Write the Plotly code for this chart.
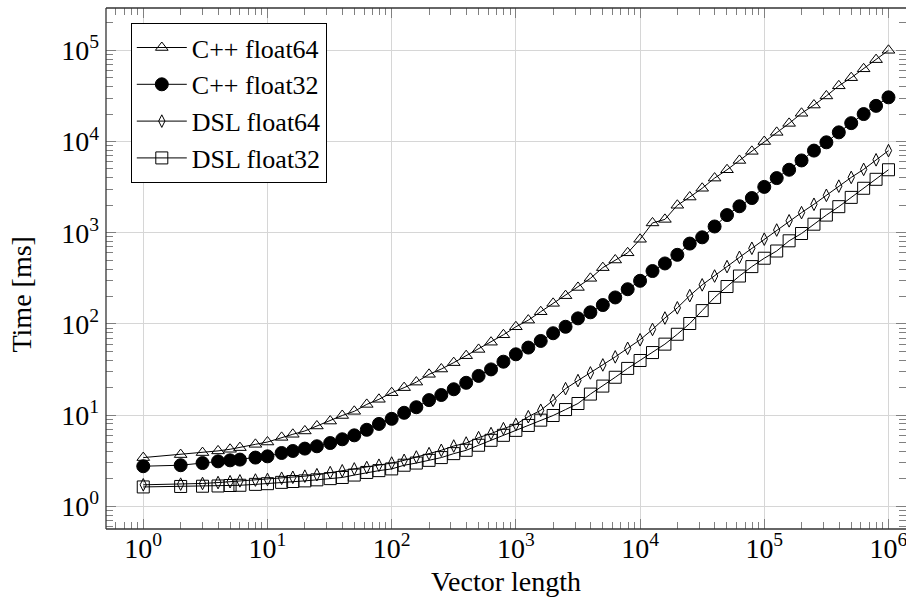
import plotly.graph_objects as go

# ---- data ----
vector_length = [1, 2, 3, 4, 5, 6, 8, 10,
                 13, 16, 20, 25, 32, 40, 50, 63, 79, 100,
                 126, 158, 200, 251, 316, 398, 501, 631, 794, 1000,
                 1259, 1585, 1995, 2512, 3162, 3981, 5012, 6310, 7943, 10000,
                 12589, 15849, 19953, 25119, 31623, 39811, 50119, 63096, 79433, 100000,
                 125893, 158489, 199526, 251189, 316228, 398107, 501187, 630957, 794328, 1000000]

cpp_float64 = [3.42, 3.69, 3.88, 4.05, 4.22, 4.4, 4.78, 5.07,
               5.7, 6.16, 6.7, 7.6, 8.6, 9.9, 11.0, 13.1, 14.9, 17.6,
               20.0, 23.0, 28.0, 32.0, 37.6, 44.8, 52.5, 63.0, 76.0, 93.0,
               110, 136, 168, 204, 251, 316, 414, 502, 602, 847,
               1280, 1400, 2000, 2460, 3070, 3970, 4900, 6200, 7800, 10000,
               12600, 15800, 20400, 25100, 31600, 40800, 50100, 62700, 79000, 100000]

cpp_float32 = [2.75, 2.82, 2.98, 3.11, 3.19, 3.25, 3.42, 3.53,
               3.84, 4.04, 4.29, 4.55, 4.94, 5.43, 6.0, 6.9, 8.0, 9.1,
               10.6, 12.2, 14.6, 16.6, 19.2, 22.6, 26.9, 31.7, 38.5, 46.4,
               55, 65, 79, 93, 115, 134, 161, 195, 240, 297,
               380, 460, 572, 760, 890, 1170, 1560, 1950, 2400, 3180,
               3970, 4900, 6200, 7950, 9800, 12600, 15900, 20000, 24600, 30500]

dsl_float64 = [1.72, 1.75, 1.78, 1.82, 1.86, 1.9, 1.94, 1.97,
               2.03, 2.08, 2.14, 2.22, 2.34, 2.45, 2.57, 2.66, 2.82, 2.98,
               3.19, 3.47, 3.78, 4.11, 4.58, 4.94, 5.66, 6.27, 7.1, 7.9,
               9.6, 11.3, 14.5, 19.5, 23.9, 29.0, 35.5, 43.5, 54.0, 67.0,
               87, 116, 150, 204, 268, 335, 425, 537, 675, 850,
               1070, 1350, 1660, 2050, 2570, 3240, 4040, 4950, 6300, 7950]

dsl_float32 = [1.63, 1.65, 1.66, 1.67, 1.69, 1.70, 1.74, 1.77,
               1.83, 1.87, 1.90, 1.95, 2.01, 2.07, 2.20, 2.35, 2.46, 2.57,
               2.82, 2.98, 3.19, 3.42, 3.78, 4.11, 4.67, 5.29, 6.0, 6.8,
               7.7, 8.8, 9.9, 11.5, 13.4, 17.0, 20.8, 26.0, 32.5, 39.7,
               48.5, 60, 77, 101, 140, 195, 257, 335, 425, 525,
               630, 815, 980, 1240, 1560, 1930, 2440, 3070, 3850, 4900]

x_tick_exponents = [0, 1, 2, 3, 4, 5, 6]
y_tick_exponents = [0, 1, 2, 3, 4, 5]

FONT = "Liberation Serif"
FS = 28

fig = go.Figure()

series = [
    ("C++ float64", cpp_float64, "triangle-up-open", 11),
    ("C++ float32", cpp_float32, "circle", 13),
    ("DSL float64", dsl_float64, "diamond-tall-open", 9),
    ("DSL float32", dsl_float32, "square-open", 12),
]
for name, vals, sym, sz in series:
    fig.add_trace(go.Scatter(
        x=vector_length, y=vals, name=name, mode="lines+markers",
        line=dict(color="black", width=1),
        marker=dict(symbol=sym, size=sz, color="black",
                    line=dict(color="black", width=1)),
    ))

def minor_vals(lo, hi):
    return [m * 10 ** e for e in range(lo, hi) for m in range(2, 10)]

axis_common = dict(
    type="log",
    showline=False,
    mirror="ticks",
    ticks="inside",
    ticklen=10,
    tickcolor="#808080",
    tickwidth=1,
    showgrid=True,
    gridcolor="#d6d6d6",
    gridwidth=1,
    zeroline=False,
    tickfont=dict(family=FONT, size=FS, color="black"),
    ticklabeloverflow="allow",
)

fig.update_xaxes(
    **axis_common,
    range=[-0.300, 6.141],
    tickmode="array",
    tickvals=[10 ** e for e in x_tick_exponents],
    ticktext=[f"10<sup>{e}</sup>" for e in x_tick_exponents],
    minor=dict(ticks="inside", ticklen=7, tickcolor="#808080", showgrid=False,
               tickmode="array", tickvals=minor_vals(-1, 7)),
    title=dict(text="Vector length", font=dict(family=FONT, size=FS, color="black"), standoff=8),
)
fig.update_yaxes(
    **axis_common,
    range=[-0.249, 5.464],
    tickmode="array",
    tickvals=[10 ** e for e in y_tick_exponents],
    ticktext=[f"10<sup>{e}</sup>" for e in y_tick_exponents],
    minor=dict(ticks="inside", ticklen=7, tickcolor="#808080", showgrid=False,
               tickmode="array", tickvals=minor_vals(-1, 6)),
    ticklabelstandoff=6,
)

# y-axis title as an annotation for precise placement
fig.add_annotation(
    text="Time [ms]", textangle=-90, xref="paper", yref="paper",
    x=-0.105, y=0.45, xanchor="center", yanchor="middle", showarrow=False,
    font=dict(family=FONT, size=FS, color="black"),
)

# frame on left, top, bottom (right edge is outside the visible picture)
for x0, y0, x1, y1 in [(0, 0, 0, 1), (0, 1, 1, 1), (0, 0, 1, 0)]:
    fig.add_shape(type="line", xref="paper", yref="paper", x0=x0, y0=y0, x1=x1, y1=y1,
                  line=dict(color="#333333", width=1.3), layer="above")

fig.update_layout(
    width=906, height=610,
    margin=dict(l=106, r=0, t=8, b=81, autoexpand=False),
    paper_bgcolor="white", plot_bgcolor="white",
    font=dict(family=FONT, size=FS, color="black"),
    showlegend=True,
    legend=dict(
        x=0.031, y=0.971, xanchor="left", yanchor="top",
        bgcolor="white", bordercolor="black", borderwidth=1,
        font=dict(family=FONT, size=26, color="black"),
        itemwidth=50, tracegroupgap=0,
    ),
)

fig.write_html("out.html")
